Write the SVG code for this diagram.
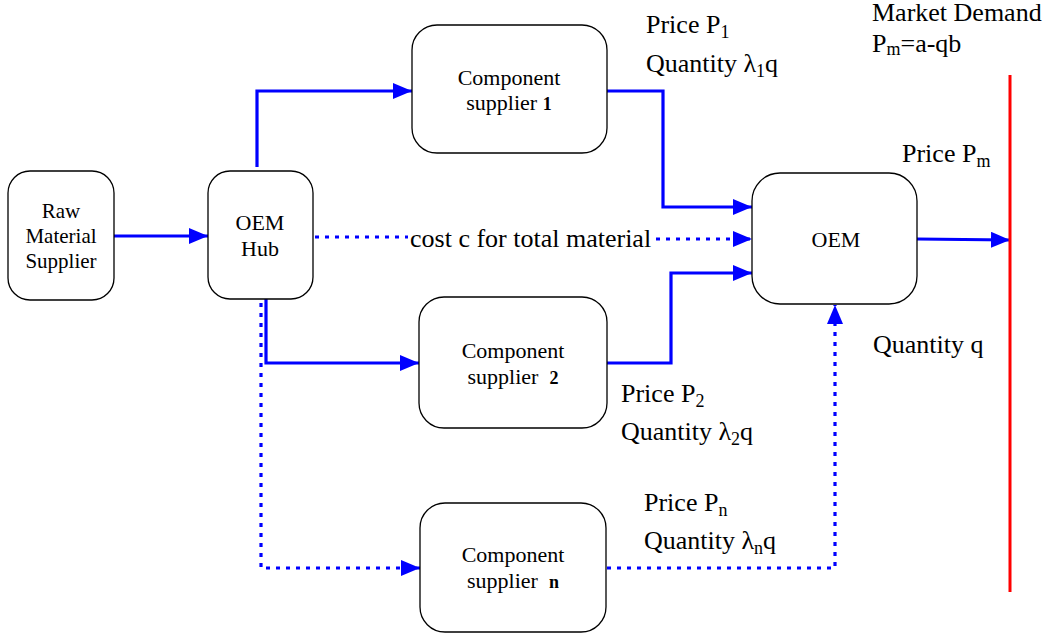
<svg xmlns="http://www.w3.org/2000/svg" width="1048" height="637" viewBox="0 0 1048 637" font-family="'Liberation Serif', 'DejaVu Serif', serif">
  <style>
    text { font-family: "Liberation Serif", "DejaVu Serif", serif; fill: #000; }
    .box { fill: #fff; stroke: #000; stroke-width: 1.3; }
    .in { font-size: 22px; text-anchor: middle; }
    .raw { font-size: 21px; }
    .lbl { font-size: 26px; }
    .sub { font-size: 18px; }
    .solid { fill: none; stroke: #0000ff; stroke-width: 3.2; }
    .dot { fill: none; stroke: #0000ff; stroke-width: 3.2; stroke-dasharray: 4 6; }
  </style>
  <defs>
    <marker id="arr" markerUnits="userSpaceOnUse" markerWidth="20" markerHeight="18" refX="19" refY="8" orient="auto">
      <path d="M0,0 L19,8 L0,16 Z" fill="#0000ff"/>
    </marker>
  </defs>

  <rect width="1048" height="637" fill="#fff"/>

  <!-- connectors -->
  <g id="connectors">
    <path class="solid" d="M114,236 H208" marker-end="url(#arr)"/>
    <path class="solid" d="M257,167 V91 H412" marker-end="url(#arr)"/>
    <path class="solid" d="M266,299 V363 H419" marker-end="url(#arr)"/>
    <path class="dot" d="M261,303 V568 H420" marker-end="url(#arr)"/>
    <path class="dot" d="M315,237 H408"/>
    <path class="dot" d="M656,239 H752" marker-end="url(#arr)"/>
    <path class="solid" d="M607,91 H663 V207 H752" marker-end="url(#arr)"/>
    <path class="solid" d="M607,363 H671 V273 H752" marker-end="url(#arr)"/>
    <path class="dot" d="M607,568 H835 V305" marker-end="url(#arr)"/>
    <path class="solid" d="M917,239 L1010,240" marker-end="url(#arr)"/>
    <line x1="1010" y1="75" x2="1010" y2="592" stroke="#ff0000" stroke-width="3"/>
  </g>

  <!-- nodes -->
  <g id="raw-material-supplier">
    <rect class="box" x="8" y="171" width="106" height="129" rx="22"/>
    <text class="in raw" x="61" y="218">Raw</text>
    <text class="in raw" x="61" y="243">Material</text>
    <text class="in raw" x="61" y="268">Supplier</text>
  </g>

  <g id="oem-hub">
    <rect class="box" x="208" y="171" width="105" height="128" rx="22"/>
    <text class="in" x="260" y="230">OEM</text>
    <text class="in" x="260" y="256">Hub</text>
  </g>

  <g id="component-supplier-1">
    <rect class="box" x="412" y="25" width="195" height="128" rx="25"/>
    <text class="in" x="509" y="85">Component</text>
    <text class="in" x="509" y="110">supplier <tspan font-weight="bold" font-size="18">1</tspan></text>
  </g>

  <g id="component-supplier-2">
    <rect class="box" x="419" y="297" width="188" height="131" rx="25"/>
    <text class="in" x="513" y="358">Component</text>
    <text class="in" x="513" y="384" xml:space="preserve">supplier  <tspan font-weight="bold" font-size="18">2</tspan></text>
  </g>

  <g id="component-supplier-n">
    <rect class="box" x="420" y="503" width="186" height="129" rx="25"/>
    <text class="in" x="513" y="562">Component</text>
    <text class="in" x="513" y="588" xml:space="preserve">supplier  <tspan font-weight="bold" font-size="18">n</tspan></text>
  </g>

  <g id="oem">
    <rect class="box" x="752" y="173" width="165" height="131" rx="28"/>
    <text class="in" x="836" y="247">OEM</text>
  </g>

  <!-- labels -->
  <g id="labels">
    <text class="lbl" x="410" y="247">cost c for total material</text>

    <text class="lbl" x="646" y="33">Price P<tspan class="sub" dy="5">1</tspan></text>
    <text class="lbl" x="646" y="72">Quantity λ<tspan class="sub" dy="5">1</tspan><tspan dy="-5">q</tspan></text>

    <text class="lbl" x="621" y="402">Price P<tspan class="sub" dy="5">2</tspan></text>
    <text class="lbl" x="621" y="440">Quantity λ<tspan class="sub" dy="5">2</tspan><tspan dy="-5">q</tspan></text>

    <text class="lbl" x="644" y="511">Price P<tspan class="sub" dy="5">n</tspan></text>
    <text class="lbl" x="644" y="549">Quantity λ<tspan class="sub" dy="5">n</tspan><tspan dy="-5">q</tspan></text>

    <text class="lbl" x="872" y="21">Market Demand</text>
    <text class="lbl" x="872" y="52">P<tspan class="sub" dy="3">m</tspan><tspan dy="-3">=a-qb</tspan></text>

    <text class="lbl" x="902" y="162">Price P<tspan class="sub" dy="5">m</tspan></text>

    <text class="lbl" x="873" y="353">Quantity q</text>
  </g>
</svg>
